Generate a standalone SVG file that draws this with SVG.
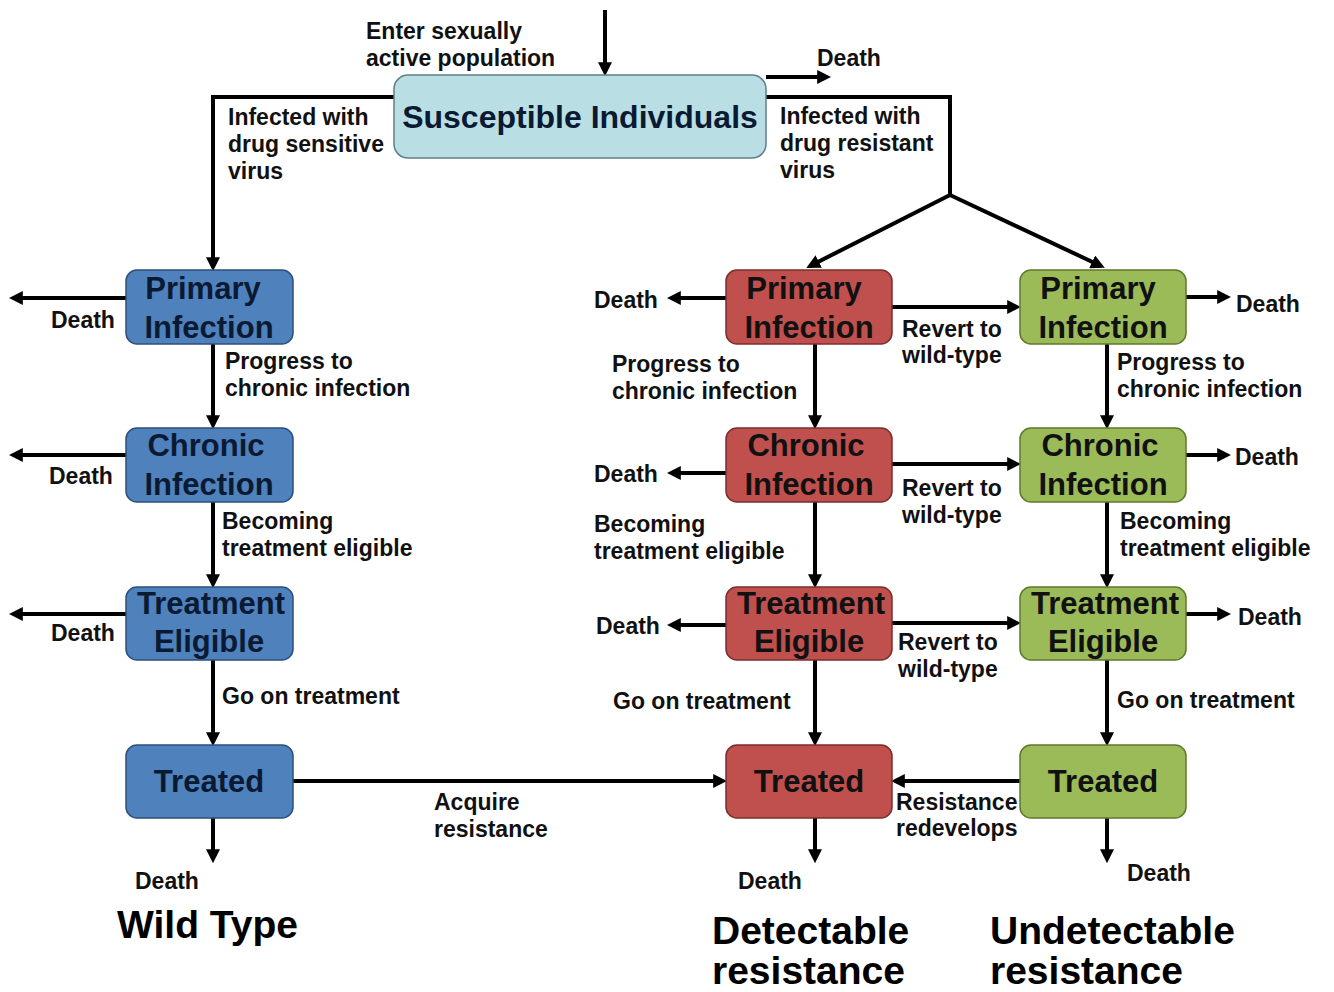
<svg xmlns="http://www.w3.org/2000/svg" width="1334" height="992" viewBox="0 0 1334 992">
<defs>
<marker id="ah" viewBox="0 0 10 10" refX="7" refY="5" markerWidth="14" markerHeight="14" markerUnits="userSpaceOnUse" orient="auto"><path d="M0,0 L10,5 L0,10 z" fill="#000"/></marker>
<style>
.c{fill:none;stroke:#000;stroke-width:4;marker-end:url(#ah)}
.l{fill:none;stroke:#000;stroke-width:4}
.lb{font-family:"Liberation Sans",Arial,sans-serif;font-weight:bold;font-size:23px;fill:#111}
.nt{font-family:"Liberation Sans",Arial,sans-serif;font-weight:bold;font-size:31px;text-anchor:middle}
.ti{font-family:"Liberation Sans",Arial,sans-serif;font-weight:bold;font-size:39px;fill:#000}
.blue{fill:#4f81bd;stroke:#2c4f7c;stroke-width:1.5}
.red{fill:#c0504d;stroke:#7a2e2c;stroke-width:1.5}
.green{fill:#9bbb59;stroke:#5f7a2c;stroke-width:1.5}
.bt{fill:#0b1a33}
.rt{fill:#111}
</style>
</defs>
<rect width="1334" height="992" fill="#fff"/>

<g id="connectors">
<path class="c" d="M605,10 V72"/>
<path class="c" d="M766,77 H827"/>
<path class="c" d="M394,97 H213 V267"/>
<path class="l" d="M766,97 H950 V195"/>
<path class="c" d="M950,195 L810,266"/>
<path class="c" d="M950,195 L1101,266"/>
<path class="c" d="M213,344 V425"/>
<path class="c" d="M213,502 V584"/>
<path class="c" d="M213,660 V742"/>
<path class="c" d="M213,818 V859"/>
<path class="c" d="M126,298 H13"/>
<path class="c" d="M126,455 H13"/>
<path class="c" d="M126,614 H13"/>
<path class="c" d="M815,344 V425"/>
<path class="c" d="M815,502 V584"/>
<path class="c" d="M815,660 V742"/>
<path class="c" d="M815,818 V859"/>
<path class="c" d="M726,298 H671"/>
<path class="c" d="M726,473 H671"/>
<path class="c" d="M726,625 H671"/>
<path class="c" d="M892,307 H1017"/>
<path class="c" d="M892,464 H1017"/>
<path class="c" d="M892,623 H1017"/>
<path class="c" d="M1107,344 V425"/>
<path class="c" d="M1107,502 V584"/>
<path class="c" d="M1107,660 V742"/>
<path class="c" d="M1107,818 V859"/>
<path class="c" d="M1186,297 H1227"/>
<path class="c" d="M1186,455 H1227"/>
<path class="c" d="M1186,614 H1227"/>
<path class="c" d="M293,781 H723"/>
<path class="c" d="M1020,781 H895"/>
</g>

<g id="susceptible">
<rect x="394" y="75" width="372" height="83" rx="14" fill="#b9dfe5" stroke="#5d7f86" stroke-width="1.5"/>
<text x="580" y="128" class="nt" style="font-size:32px" fill="#0b1a33">Susceptible Individuals</text>
</g>

<g id="wt-primary"><rect x="126" y="270" width="167" height="74" rx="11" class="blue"/><text class="nt bt"><tspan x="203" y="299">Primary</tspan><tspan x="209" y="338">Infection</tspan></text></g>
<g id="wt-chronic"><rect x="126" y="428" width="167" height="74" rx="11" class="blue"/><text class="nt bt"><tspan x="206" y="456">Chronic</tspan><tspan x="209" y="495">Infection</tspan></text></g>
<g id="wt-eligible"><rect x="126" y="587" width="167" height="73" rx="11" class="blue"/><text class="nt bt"><tspan x="211" y="614">Treatment</tspan><tspan x="209" y="652">Eligible</tspan></text></g>
<g id="wt-treated"><rect x="126" y="745" width="167" height="73" rx="11" class="blue"/><text class="nt bt"><tspan x="209" y="792">Treated</tspan></text></g>

<g id="dr-primary"><rect x="726" y="270" width="166" height="74" rx="11" class="red"/><text class="nt rt"><tspan x="804" y="299">Primary</tspan><tspan x="809" y="338">Infection</tspan></text></g>
<g id="dr-chronic"><rect x="726" y="428" width="166" height="74" rx="11" class="red"/><text class="nt rt"><tspan x="806" y="456">Chronic</tspan><tspan x="809" y="495">Infection</tspan></text></g>
<g id="dr-eligible"><rect x="726" y="587" width="166" height="73" rx="11" class="red"/><text class="nt rt"><tspan x="811" y="614">Treatment</tspan><tspan x="809" y="652">Eligible</tspan></text></g>
<g id="dr-treated"><rect x="726" y="745" width="166" height="73" rx="11" class="red"/><text class="nt rt"><tspan x="809" y="792">Treated</tspan></text></g>

<g id="ur-primary"><rect x="1020" y="270" width="166" height="74" rx="11" class="green"/><text class="nt rt"><tspan x="1098" y="299">Primary</tspan><tspan x="1103" y="338">Infection</tspan></text></g>
<g id="ur-chronic"><rect x="1020" y="428" width="166" height="74" rx="11" class="green"/><text class="nt rt"><tspan x="1100" y="456">Chronic</tspan><tspan x="1103" y="495">Infection</tspan></text></g>
<g id="ur-eligible"><rect x="1020" y="587" width="166" height="73" rx="11" class="green"/><text class="nt rt"><tspan x="1105" y="614">Treatment</tspan><tspan x="1103" y="652">Eligible</tspan></text></g>
<g id="ur-treated"><rect x="1020" y="745" width="166" height="73" rx="11" class="green"/><text class="nt rt"><tspan x="1103" y="792">Treated</tspan></text></g>

<g id="labels">
<text class="lb"><tspan x="366" y="39">Enter sexually</tspan><tspan x="366" y="66">active population</tspan></text>
<text class="lb" x="817" y="66">Death</text>
<text class="lb"><tspan x="228" y="125">Infected with</tspan><tspan x="228" y="152">drug sensitive</tspan><tspan x="228" y="179">virus</tspan></text>
<text class="lb"><tspan x="780" y="124">Infected with</tspan><tspan x="780" y="151">drug resistant</tspan><tspan x="780" y="178">virus</tspan></text>

<text class="lb" x="51" y="328">Death</text>
<text class="lb" x="49" y="484">Death</text>
<text class="lb" x="51" y="641">Death</text>
<text class="lb"><tspan x="225" y="369">Progress to</tspan><tspan x="225" y="396">chronic infection</tspan></text>
<text class="lb"><tspan x="222" y="529">Becoming</tspan><tspan x="222" y="556">treatment eligible</tspan></text>
<text class="lb" x="222" y="704">Go on treatment</text>
<text class="lb" x="135" y="889">Death</text>
<text class="lb"><tspan x="434" y="810">Acquire</tspan><tspan x="434" y="837">resistance</tspan></text>

<text class="lb" x="594" y="308">Death</text>
<text class="lb" x="594" y="482">Death</text>
<text class="lb" x="596" y="634">Death</text>
<text class="lb"><tspan x="612" y="372">Progress to</tspan><tspan x="612" y="399">chronic infection</tspan></text>
<text class="lb"><tspan x="594" y="532">Becoming</tspan><tspan x="594" y="559">treatment eligible</tspan></text>
<text class="lb" x="613" y="709">Go on treatment</text>
<text class="lb" x="738" y="889">Death</text>

<text class="lb"><tspan x="902" y="337">Revert to</tspan><tspan x="902" y="363">wild-type</tspan></text>
<text class="lb"><tspan x="902" y="496">Revert to</tspan><tspan x="902" y="523">wild-type</tspan></text>
<text class="lb"><tspan x="898" y="650">Revert to</tspan><tspan x="898" y="677">wild-type</tspan></text>
<text class="lb"><tspan x="896" y="810">Resistance</tspan><tspan x="896" y="836">redevelops</tspan></text>

<text class="lb" x="1236" y="312">Death</text>
<text class="lb" x="1235" y="465">Death</text>
<text class="lb" x="1238" y="625">Death</text>
<text class="lb"><tspan x="1117" y="370">Progress to</tspan><tspan x="1117" y="397">chronic infection</tspan></text>
<text class="lb"><tspan x="1120" y="529">Becoming</tspan><tspan x="1120" y="556">treatment eligible</tspan></text>
<text class="lb" x="1117" y="708">Go on treatment</text>
<text class="lb" x="1127" y="881">Death</text>

<text class="ti" x="117" y="938">Wild Type</text>
<text class="ti"><tspan x="712" y="944">Detectable</tspan><tspan x="712" y="984">resistance</tspan></text>
<text class="ti"><tspan x="990" y="944">Undetectable</tspan><tspan x="990" y="984">resistance</tspan></text>
</g>
</svg>
